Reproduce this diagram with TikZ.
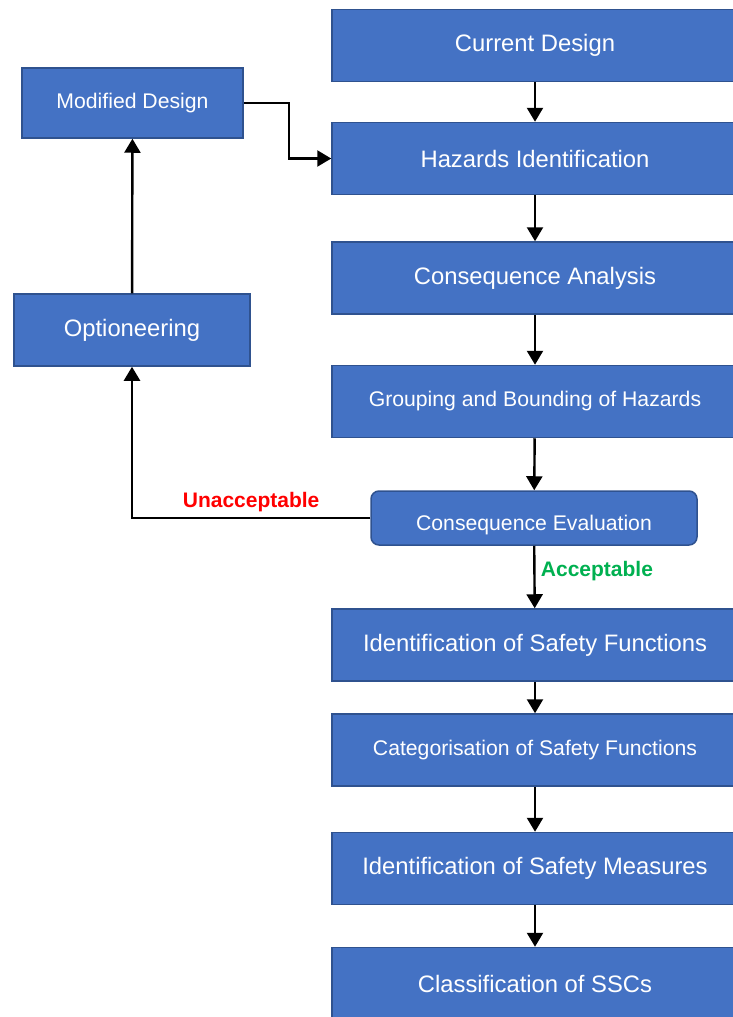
\documentclass[tikz,border=0pt]{standalone}
\usepackage{fontspec}
\setmainfont{Liberation Sans}
\usetikzlibrary{arrows.meta}

\definecolor{boxblue}{HTML}{4472C4}
\definecolor{boxline}{HTML}{2F528F}
\definecolor{badred}{HTML}{FF0000}
\definecolor{okgreen}{HTML}{00B050}

\tikzset{
	stepbox/.style={draw=boxline,line width=1.5pt,fill=boxblue,text=white,
		minimum width=406pt,minimum height=72pt,align=center,
		font=\fontsize{23.8}{28}\selectfont},
	small/.style={font=\fontsize{21.2}{25}\selectfont},
	arr/.style={line width=2.4pt,-{Triangle[length=14pt,width=16pt]}},
	verdict/.style={font=\fontsize{21}{25}\selectfont\bfseries}
}

\begin{document}
\begin{tikzpicture}[x=1pt,y=-1pt]
	\useasboundingbox (0,0) rectangle (732,1017);

	\node[stepbox] (cur) at (535,45.5) {Current Design};
	\node[stepbox] (haz) at (535,158.5) {Hazards Identification};
	\node[stepbox] (cons) at (535,278) {Consequence Analysis};
	\node[stepbox,small] (group) at (535,401.5) {Grouping and Bounding of Hazards};
	\node[stepbox,small,rounded corners=8pt,minimum width=326pt,minimum height=54pt,
		text height=26pt,text depth=1.5pt] (eval) at (534,518) {Consequence Evaluation};
	\node[stepbox] (funcs) at (535,645) {Identification of Safety Functions};
	\node[stepbox,small] (cat) at (535,750) {Categorisation of Safety Functions};
	\node[stepbox] (meas) at (535,868.5) {Identification of Safety Measures};
	\node[stepbox] (ssc) at (535,983.5) {Classification of SSCs};

	\node[stepbox,small,minimum width=221pt,minimum height=70pt] (mod) at (132.5,103) {Modified Design};
	\node[stepbox,minimum width=236pt] (opt) at (132,330) {Optioneering};

	% main chain
	\draw[arr] (cur) -- (haz);
	\draw[arr] (haz) -- (cons);
	\draw[arr] (cons) -- (group);
	\draw[arr] (group) -- (eval);
	\draw[arr] (eval) -- (funcs)
		node[pos=0.4,right=2pt,verdict,text=okgreen] {Acceptable};
	\draw[arr] (funcs) -- (cat);
	\draw[arr] (cat) -- (meas);
	\draw[arr] (meas) -- (ssc);

	% loop back
	\draw[arr] (eval.west) -| (opt.south)
		node[pos=0.25,above=2pt,verdict,text=badred] {Unacceptable};
	\draw[arr] (opt) -- (mod);
	\draw[arr] (mod.east) -- ++(45,0) |- (haz.west);

\end{tikzpicture}
\end{document}
